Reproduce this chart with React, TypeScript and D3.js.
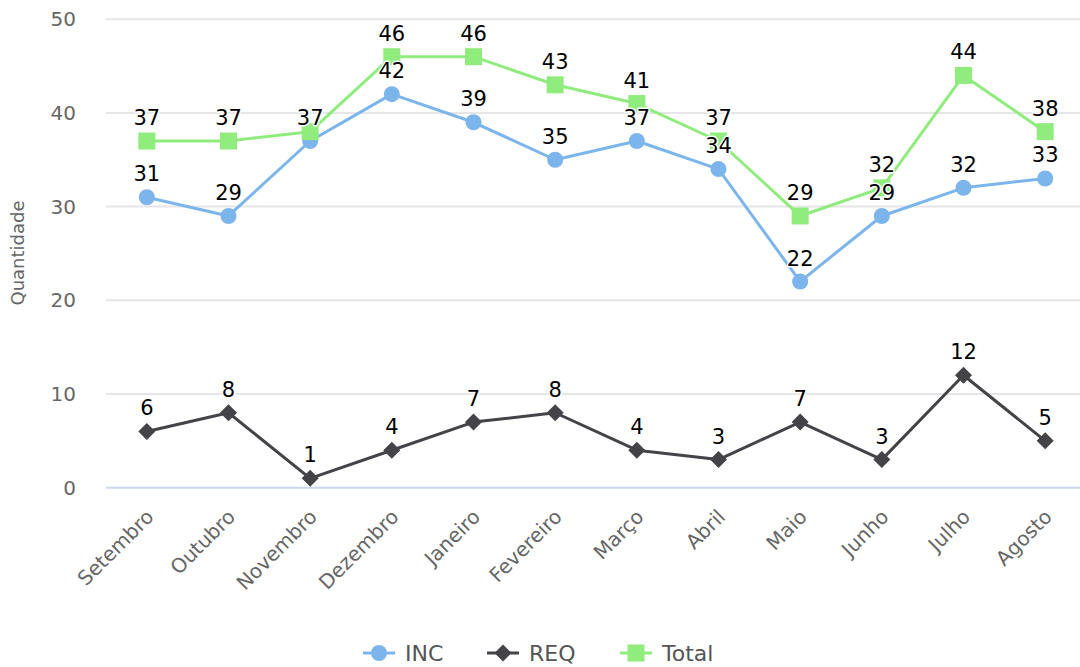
import React from "react";
import * as d3 from "d3";

const categories = ["Setembro", "Outubro", "Novembro", "Dezembro", "Janeiro", "Fevereiro", "Março", "Abril", "Maio", "Junho", "Julho", "Agosto"];
const incValues = [31, 29, 37, 42, 39, 35, 37, 34, 22, 29, 32, 33];
const reqValues = [6, 8, 1, 4, 7, 8, 4, 3, 7, 3, 12, 5];
const totalValues = [37, 37, 38, 46, 46, 43, 41, 37, 29, 32, 44, 38];
const yTicks = [0, 10, 20, 30, 40, 50];
const yTitle = "Quantidade";

const W = 1080;
const H = 667;
const FONT = "'DejaVu Sans', Verdana, sans-serif";

type Series = { name: string; values: number[]; color: string; symbol: "circle" | "diamond" | "square" };
const series: Series[] = [
  { name: "INC", values: incValues, color: "#7cb5ec", symbol: "circle" },
  { name: "REQ", values: reqValues, color: "#434348", symbol: "diamond" },
  { name: "Total", values: totalValues, color: "#90ed7d", symbol: "square" },
];

const plotLeft = 106;
const plotRight = 1086;
const plotTop = 19.2;
const plotBottom = 487.7;

const x = d3.scaleBand<string>().domain(categories).range([plotLeft, plotRight]);
const y = d3.scaleLinear().domain([0, 50]).range([plotBottom, plotTop]);
const cx = (c: string) => (x(c) as number) + x.bandwidth() / 2;

function Marker({ symbol, color, px, py }: { symbol: string; color: string; px: number; py: number }) {
  if (symbol === "circle") return <circle cx={px} cy={py} r={8} fill={color} />;
  if (symbol === "square") return <rect x={px - 8.5} y={py - 8.5} width={17} height={17} fill={color} />;
  const r = 8.5;
  return <path d={`M${px},${py - r}L${px + r},${py}L${px},${py + r}L${px - r},${py}Z`} fill={color} />;
}

export default function App() {
  const line = d3
    .line<number>()
    .x((_, i) => cx(categories[i]))
    .y((v) => y(v));

  // data labels with overlap hiding (earlier series win)
  const labels: { key: string; px: number; py: number; text: string; visible: boolean }[] = [];
  const boxes: { x0: number; x1: number; y0: number; y1: number }[] = [];
  series.forEach((s) => {
    s.values.forEach((v, i) => {
      const px = cx(categories[i]);
      const py = y(v) - 16;
      const text = String(v);
      const w = text.length * 13;
      const box = { x0: px - w / 2, x1: px + w / 2, y0: py - 16, y1: py + 2 };
      const overlap = boxes.some((b) => !(box.x1 < b.x0 || box.x0 > b.x1 || box.y1 < b.y0 || box.y0 > b.y1));
      if (!overlap) boxes.push(box);
      labels.push({ key: `${s.name}-${i}`, px, py, text, visible: !overlap });
    });
  });

  const legendItems = [
    { s: series[0], x0: 363 },
    { s: series[1], x0: 487 },
    { s: series[2], x0: 620 },
  ];

  return (
    <svg width={W} height={H} style={{ position: "absolute", left: 0, top: 0, fontFamily: FONT }}>
      <rect width={W} height={H} fill="#fff" />
      {yTicks.map((t) => (
        <g key={t}>
          <line x1={plotLeft} x2={plotRight} y1={y(t)} y2={y(t)} stroke={t === 0 ? "#ccd6eb" : "#e6e6e6"} strokeWidth={2} />
          <text x={76} y={y(t) + 7} textAnchor="end" fontSize={20} fill="#666666">
            {t}
          </text>
        </g>
      ))}
      <text transform={`translate(24,253) rotate(-90)`} textAnchor="middle" fontSize={18} fill="#666666">
        {yTitle}
      </text>
      {categories.map((c) => (
        <text
          key={c}
          transform={`translate(${cx(c) + 8},${518}) rotate(-45)`}
          textAnchor="end"
          fontSize={20}
          fill="#666666"
        >
          {c}
        </text>
      ))}
      {series.map((s) => (
        <g key={s.name}>
          <path d={line(s.values) || ""} fill="none" stroke={s.color} strokeWidth={3} strokeLinejoin="round" strokeLinecap="round" />
          {s.values.map((v, i) => (
            <Marker key={i} symbol={s.symbol} color={s.color} px={cx(categories[i])} py={y(v)} />
          ))}
        </g>
      ))}
      {labels
        .filter((l) => l.visible)
        .map((l) => (
          <text
            key={l.key}
            x={l.px}
            y={l.py}
            textAnchor="middle"
            fontSize={21}
            fill="#000"
            stroke="#fff"
            strokeWidth={3}
            strokeLinejoin="round"
            style={{ paintOrder: "stroke" }}
          >
            {l.text}
          </text>
        ))}
      {legendItems.map(({ s, x0 }) => (
        <g key={s.name}>
          <line x1={x0} x2={x0 + 32} y1={653} y2={653} stroke={s.color} strokeWidth={3} />
          <Marker symbol={s.symbol} color={s.color} px={x0 + 16} py={653} />
          <text x={x0 + 42} y={661} fontSize={22} fill="#555555">
            {s.name}
          </text>
        </g>
      ))}
    </svg>
  );
}
